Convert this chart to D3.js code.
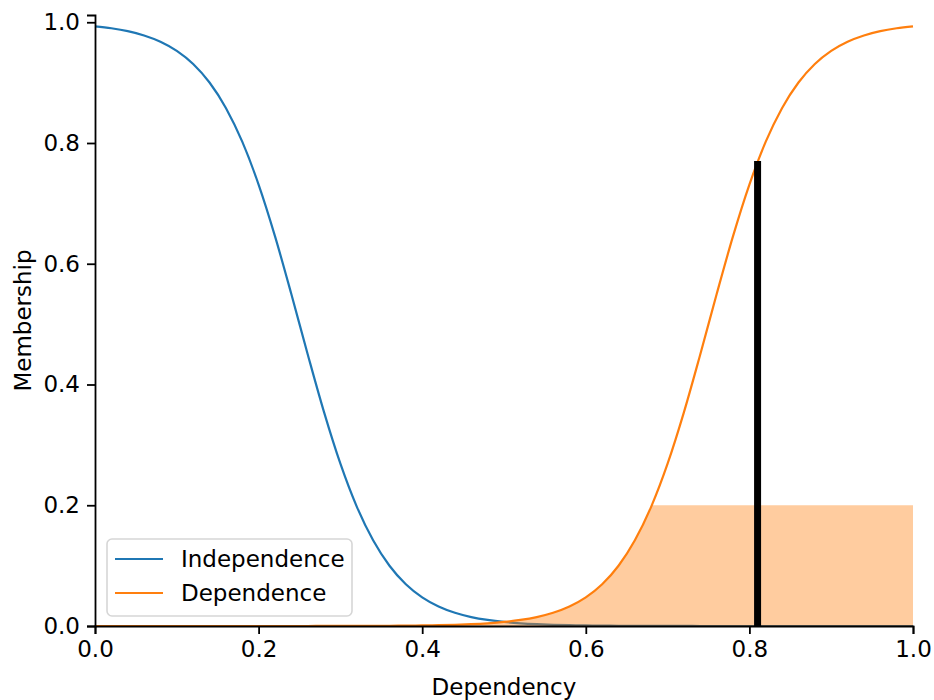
<!DOCTYPE html>
<html>
<head>
<meta charset="utf-8">
<script src="https://cdn.jsdelivr.net/npm/d3@7/dist/d3.min.js"></script>
<style>
  html, body { margin: 0; padding: 0; background: #fff; }
  #chart { width: 934px; height: 700px; }
  text { font-family: "DejaVu Sans", sans-serif; }
</style>
</head>
<body>
<div id="chart"></div>
<script>
// universe of discourse, step 0.02
const xValues = [0.00, 0.02, 0.04, 0.06, 0.08, 0.10, 0.12, 0.14, 0.16, 0.18,
  0.20, 0.22, 0.24, 0.26, 0.28, 0.30, 0.32, 0.34, 0.36, 0.38,
  0.40, 0.42, 0.44, 0.46, 0.48, 0.50, 0.52, 0.54, 0.56, 0.58,
  0.60, 0.62, 0.64, 0.66, 0.68, 0.70, 0.72, 0.74, 0.76, 0.78,
  0.80, 0.82, 0.84, 0.86, 0.88, 0.90, 0.92, 0.94, 0.96, 0.98, 1.00];

const independence = [0.9933, 0.9900, 0.9852, 0.9781, 0.9677, 0.9526, 0.9309, 0.9002, 0.8581, 0.8022,
  0.7311, 0.6457, 0.5498, 0.4502, 0.3543, 0.2689, 0.1978, 0.1419, 0.0998, 0.0691,
  0.0474, 0.0323, 0.0219, 0.0148, 0.0100, 0.0067, 0.0045, 0.0030, 0.0020, 0.0014,
  0.0009, 0.0006, 0.0004, 0.0003, 0.0002, 0.0001, 0.0001, 0.0000, 0.0000, 0.0000,
  0.0000, 0.0000, 0.0000, 0.0000, 0.0000, 0.0000, 0.0000, 0.0000, 0.0000, 0.0000, 0.0000];

const dependence = [0.0000, 0.0000, 0.0000, 0.0000, 0.0000, 0.0000, 0.0000, 0.0000, 0.0000, 0.0000,
  0.0000, 0.0000, 0.0000, 0.0000, 0.0001, 0.0001, 0.0002, 0.0003, 0.0004, 0.0006,
  0.0009, 0.0014, 0.0020, 0.0030, 0.0045, 0.0067, 0.0100, 0.0148, 0.0219, 0.0323,
  0.0474, 0.0691, 0.0998, 0.1419, 0.1978, 0.2689, 0.3543, 0.4502, 0.5498, 0.6457,
  0.7311, 0.8022, 0.8581, 0.9002, 0.9309, 0.9526, 0.9677, 0.9781, 0.9852, 0.9900, 0.9933];

const seriesNames = ["Independence", "Dependence"];
const activation = [0.2];          // clipped membership level (shaded)
const crispInput = [0.81];         // dependency value of the input
const crispMembership = [0.77];    // membership of input in "Dependence"

const xTicks = [0, 0.2, 0.4, 0.6, 0.8, 1.0];
const yTicks = [0, 0.2, 0.4, 0.6, 0.8, 1.0];

const W = 934, H = 700;
const margin = { top: 15, right: 21, bottom: 74, left: 95 };
const width = W - margin.left - margin.right;
const height = H - margin.top - margin.bottom;

const blue = "#1f77b4", orange = "#ff7f0e";
const fontSize = 23;

const svg = d3.select("#chart").append("svg")
  .attr("width", W)
  .attr("height", H);

const g = svg.append("g")
  .attr("transform", `translate(${margin.left},${margin.top})`);

const x = d3.scaleLinear().domain([0, 1]).range([0, width]);
const y = d3.scaleLinear().domain([0, 1.012]).range([height, 0]);

const pts = (vals) => xValues.map((v, i) => [v, vals[i]]);

const line = d3.line()
  .x(d => x(d[0]))
  .y(d => y(d[1]))
  .curve(d3.curveMonotoneX);

const area = d3.area()
  .x(d => x(d[0]))
  .y0(y(0))
  .y1(d => y(d[1]))
  .curve(d3.curveMonotoneX);

// clip the dependence area at the activation level
svg.append("defs").append("clipPath")
  .attr("id", "cap")
  .append("rect")
  .attr("x", 0)
  .attr("y", y(activation[0]))
  .attr("width", width)
  .attr("height", y(0) - y(activation[0]));

g.append("path")
  .datum(pts(independence))
  .attr("fill", "none")
  .attr("stroke", blue)
  .attr("stroke-width", 2.2)
  .attr("d", line);

g.append("path")
  .datum(pts(dependence))
  .attr("fill", "none")
  .attr("stroke", orange)
  .attr("stroke-width", 2.2)
  .attr("d", line);

g.append("path")
  .datum(pts(dependence))
  .attr("clip-path", "url(#cap)")
  .attr("fill", orange)
  .attr("fill-opacity", 0.4)
  .attr("d", area);

g.append("line")
  .attr("x1", x(crispInput[0]))
  .attr("x2", x(crispInput[0]))
  .attr("y1", y(0))
  .attr("y2", y(crispMembership[0]))
  .attr("stroke", "#000")
  .attr("stroke-width", 7);

// axes
const xAxis = g.append("g")
  .attr("transform", `translate(0,${height})`)
  .call(d3.axisBottom(x).tickValues(xTicks).tickFormat(d3.format(".1f")).tickSizeOuter(0).tickSize(8).tickPadding(7));

const yAxis = g.append("g")
  .call(d3.axisLeft(y).tickValues(yTicks).tickFormat(d3.format(".1f")).tickSizeOuter(0).tickSize(8).tickPadding(7));

[xAxis, yAxis].forEach(a => {
  a.select(".domain").attr("stroke", "#000").attr("stroke-width", 1.8);
  a.selectAll(".tick line").attr("stroke", "#000").attr("stroke-width", 1.8);
  a.selectAll(".tick text")
    .attr("fill", "#000")
    .style("font-size", fontSize + "px")
    .style("font-family", "'DejaVu Sans', sans-serif");
});

g.append("text")
  .attr("x", width / 2)
  .attr("y", height + 69)
  .attr("text-anchor", "middle")
  .style("font-size", fontSize + "px")
  .text("Dependency");

g.append("text")
  .attr("transform", `translate(${31 - margin.left},${height / 2}) rotate(-90)`)
  .attr("text-anchor", "middle")
  .style("font-size", fontSize + "px")
  .text("Membership");

// legend
const legend = g.append("g")
  .attr("transform", `translate(${107 - margin.left},${539 - margin.top})`);

legend.append("rect")
  .attr("width", 245)
  .attr("height", 77)
  .attr("rx", 5)
  .attr("fill", "#fff")
  .attr("fill-opacity", 0.8)
  .attr("stroke", "#d6d6d6")
  .attr("stroke-width", 1.6);

[blue, orange].forEach((c, i) => {
  const row = legend.append("g").attr("transform", `translate(0,${20 + i * 34})`);
  row.append("line")
    .attr("x1", 8).attr("x2", 56)
    .attr("stroke", c)
    .attr("stroke-width", 2.2);
  row.append("text")
    .attr("x", 74)
    .attr("y", 8)
    .style("font-size", fontSize + "px")
    .text(seriesNames[i]);
});
</script>
</body>
</html>
